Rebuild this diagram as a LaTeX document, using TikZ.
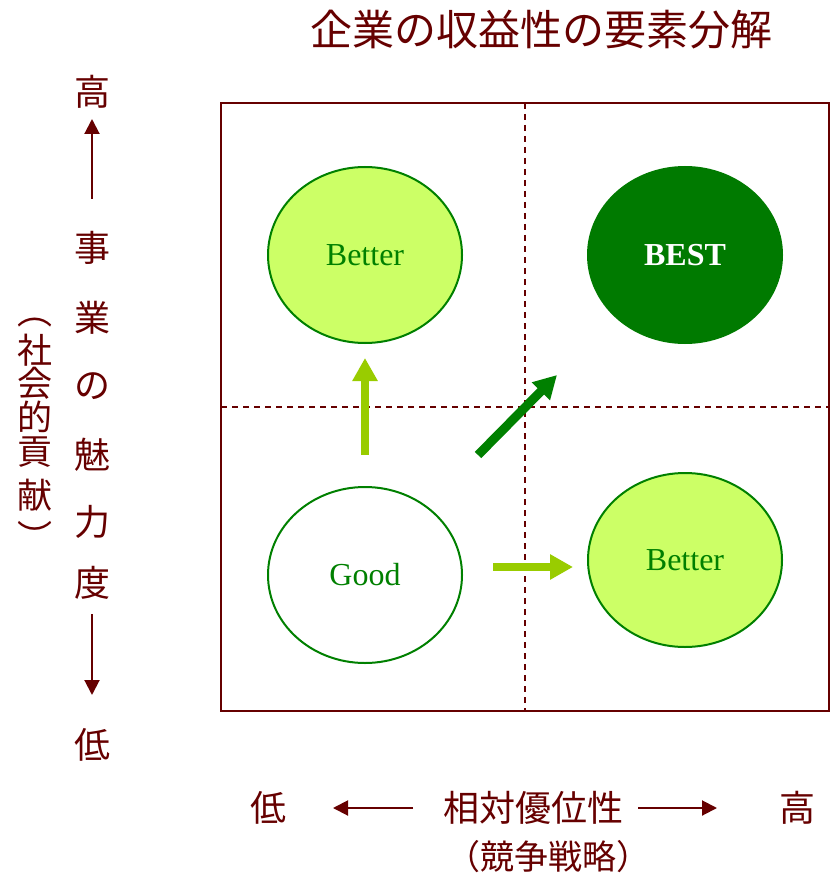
\documentclass[tikz,border=0pt]{standalone}
\usepackage{fontspec}
\setmainfont{Liberation Serif}
\newfontfamily\jp{Noto Sans CJK JP}
\usetikzlibrary{shapes.geometric,arrows.meta}
\definecolor{maroon}{RGB}{102,0,0}
\definecolor{lgreen}{RGB}{204,255,102}
\definecolor{dgreen}{RGB}{0,128,0}
\definecolor{bestg}{RGB}{0,122,0}
\definecolor{arrowlg}{RGB}{153,204,0}
\tikzset{
  jptext/.style={text=maroon, font=\jp\fontsize{36}{36}\selectfont, inner sep=0pt},
  jpside/.style={text=maroon, font=\jp\fontsize{35}{35}\selectfont, inner sep=0pt},
  jpsmall/.style={text=maroon, font=\jp\fontsize{34}{34}\selectfont, inner sep=0pt},
  axisarrow/.style={draw=maroon, line width=2pt, -{Triangle[length=15pt,width=15pt]}},
  bubble/.style={ellipse, draw=dgreen, line width=2pt, minimum width=194pt, minimum height=176pt, text=dgreen, font=\fontsize{32}{32}\selectfont},
  bigarrow/.style={line width=7.5pt, -{Triangle[length=23pt,width=24pt]}},
}
\begin{document}
\begin{tikzpicture}[x=1pt,y=-1pt]
\useasboundingbox (0,0) rectangle (837,877);
% title
\node[text=maroon, font=\jp\fontsize{42}{42}\selectfont, inner sep=0pt] (title) at (541,30) {企業の収益性の要素分解};
% frame
\draw[maroon, line width=2pt] (221,103) rectangle (829,711);
\coordinate (vt) at (525,103); \coordinate (vb) at (525,711);
\coordinate (hl) at (221,407); \coordinate (hr) at (829,407);
\draw[maroon, line width=1.5pt, dash pattern=on 6pt off 5pt] (vt) -- (vb);
\draw[maroon, line width=1.5pt, dash pattern=on 6pt off 5pt] (hl) -- (hr);
% bubbles
\node[bubble, fill=lgreen] (b1) at (365,255) {Better};
\node[bubble, fill=bestg, draw=bestg, text=white, font=\bfseries\fontsize{32}{32}\selectfont] (best) at (685,255) {BEST};
\node[bubble, fill=white] (good) at (365,575) {Good};
\node[bubble, fill=lgreen, minimum height=174pt] (b2) at (685,560) {Better};
% big arrows
\coordinate (u1) at (365,455); \coordinate (u2) at (365,358);
\coordinate (d1) at (478,455); \coordinate (d2) at (557,375);
\coordinate (r1) at (493,567); \coordinate (r2) at (573,567);
\draw[bigarrow, arrowlg] (u1) -- (u2);
\draw[bigarrow, dgreen, line width=9pt] (d1) -- (d2);
\draw[bigarrow, arrowlg] (r1) -- (r2);
% left axis
\node[jptext] (lhi) at (92,92) {高};
\coordinate (la1) at (92,199); \coordinate (la2) at (92,119);
\draw[axisarrow] (la1) -- (la2);
\node[jptext] (c1) at (92,248) {事};
\node[jptext] (c2) at (92,318) {業};
\node[jptext] (c3) at (92,386) {の};
\node[jptext] (c4) at (92,455) {魅};
\node[jptext] (c5) at (92,522) {力};
\node[jptext] (c6) at (92,583) {度};
\coordinate (la3) at (92,614); \coordinate (la4) at (92,695);
\draw[axisarrow] (la3) -- (la4);
\node[jptext] (llo) at (92,745) {低};
% left parenthetical
\node[jpside] (p0) at (35,324) {\smash{︵}};
\node[jpside] (p1) at (35,350) {社};
\node[jpside] (p2) at (35,383) {会};
\node[jpside] (p3) at (35,417) {的};
\node[jpside] (p4) at (35,452) {貢};
\node[jpside] (p5) at (35,495) {献};
\node[jpside] (p6) at (35,550) {\smash{︶}};
% bottom axis
\node[jptext] (blo) at (268,808) {低};
\coordinate (ba1) at (413,808); \coordinate (ba2) at (333,808);
\draw[axisarrow] (ba1) -- (ba2);
\node[jptext] (bmid) at (533,808) {相対優位性};
\coordinate (ba3) at (638,808); \coordinate (ba4) at (717,808);
\draw[axisarrow] (ba3) -- (ba4);
\node[jptext] (bhi) at (797,808) {高};
\node[jpsmall] (bsub) at (548,857) {（競争戦略）};
\end{tikzpicture}
\end{document}
